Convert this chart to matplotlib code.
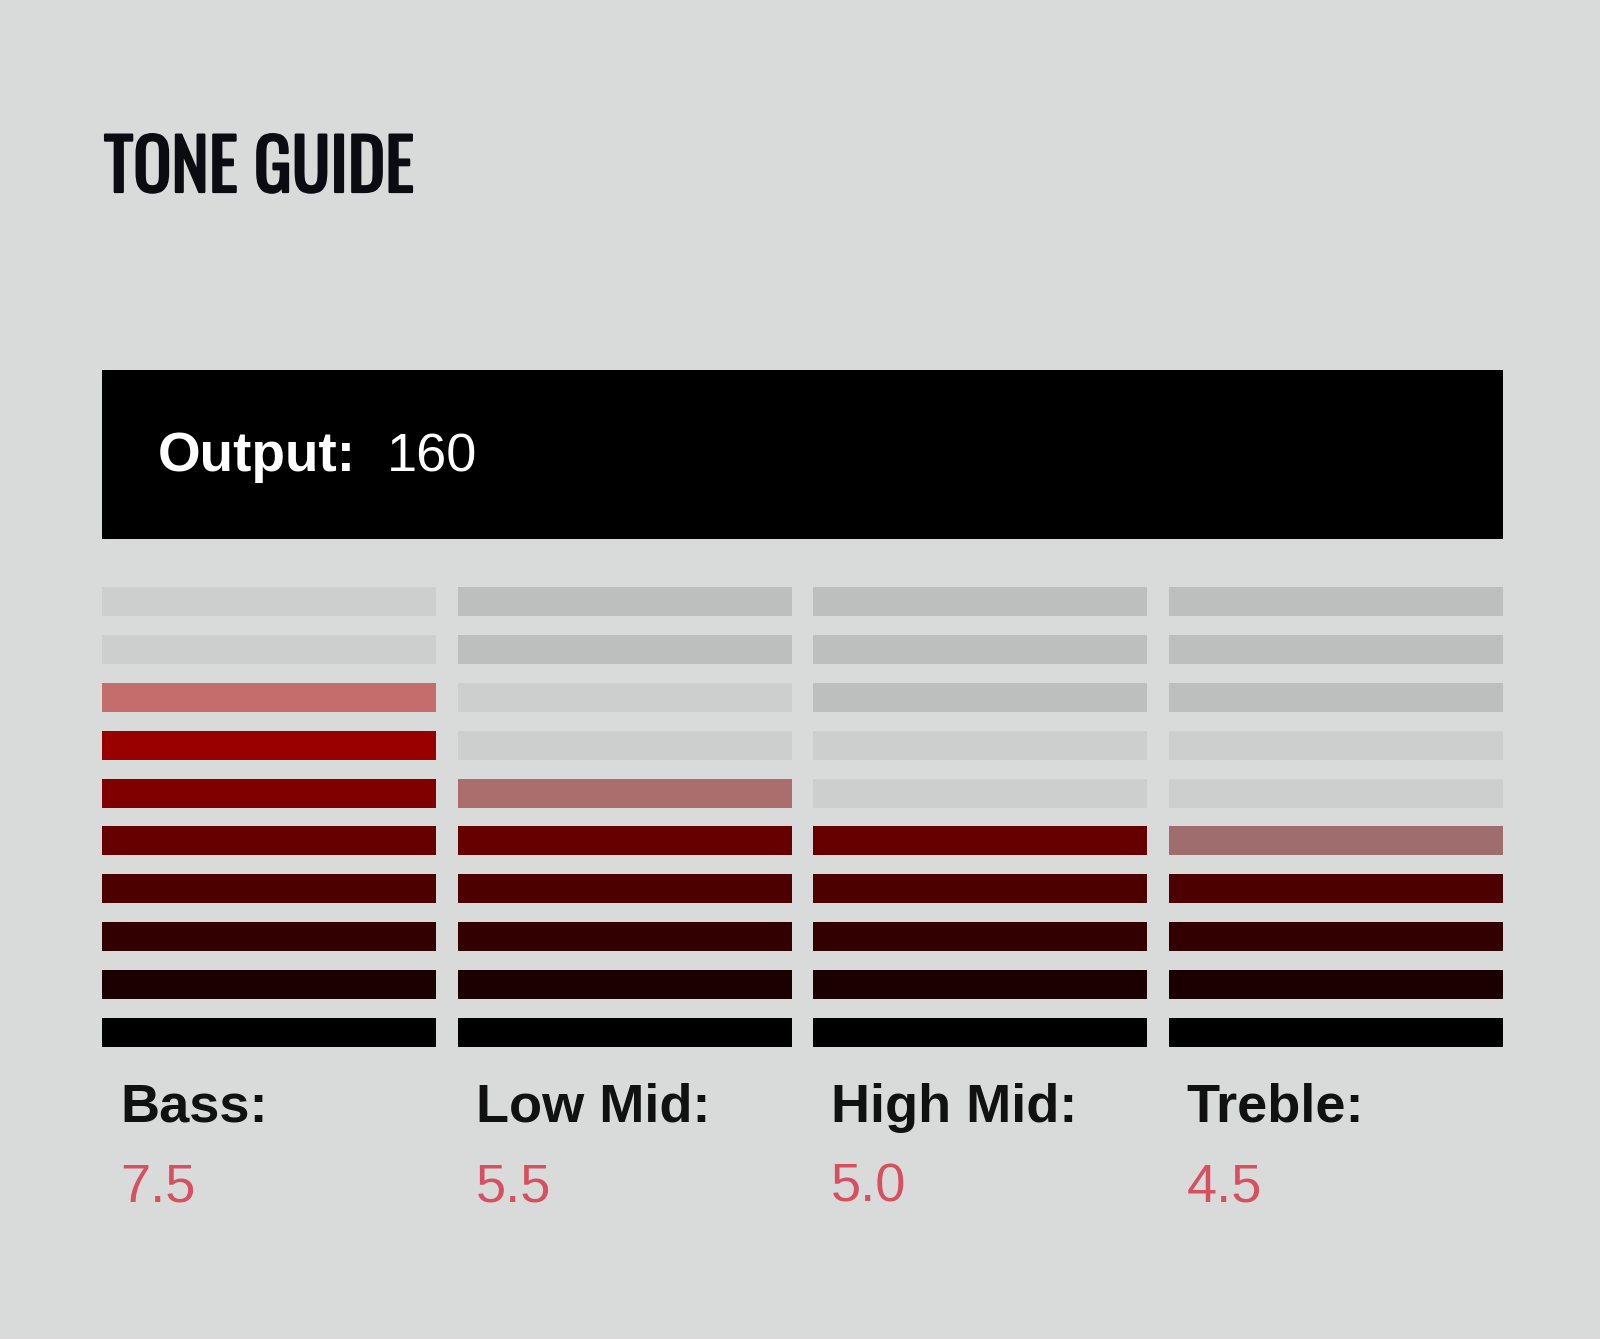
import matplotlib
matplotlib.use("Agg")
import matplotlib.pyplot as plt
from matplotlib import font_manager
import matplotlib.patheffects as pe

# ---- data ----
title = "TONE GUIDE"
output_label = "Output:"
output_value = 160
bands = ["Bass:", "Low Mid:", "High Mid:", "Treble:"]
band_values = [7.5, 5.5, 5.0, 4.5]
n_levels = 10
level_colors = ["#000000", "#1a0000", "#330000", "#4d0000", "#660000",
                "#800000", "#990000", "#b30000", "#cc0000", "#e60000"]

# ---- style ----
BG = "#d9dbdb"
NEAR_EMPTY = "#cdcfcf"
FAR_EMPTY = "#bdbebe"
VALUE_COLOR = "#d6505f"
W, H = 1600, 1339
DPI = 100

names = {f.name for f in font_manager.fontManager.ttflist}
title_family = [f for f in ["Oswald", "Liberation Sans Narrow", "DejaVu Sans"] if f in names]
sans = ["Liberation Sans", "DejaVu Sans"]

fig = plt.figure(figsize=(W / DPI, H / DPI), dpi=DPI, facecolor=BG)

def fx(px):
    return px / W

def fy(py):
    return 1 - py / H

# title
TITLE_COLOR = "#0b0b12"
fig.text(fx(104), fy(192), title, family=title_family, fontweight="bold",
         fontsize=51, color=TITLE_COLOR, va="baseline", ha="left",
         path_effects=[pe.withStroke(linewidth=1.6, foreground=TITLE_COLOR)])

# output panel
ax_out = fig.add_axes([fx(102), fy(539), fx(1503 - 102), (539 - 370) / H])
ax_out.set_facecolor("#000000")
ax_out.set_xticks([]); ax_out.set_yticks([])
for s in ax_out.spines.values():
    s.set_visible(False)
fig.text(fx(158), fy(471), output_label, family=sans, fontweight="bold",
         fontsize=39.5, color="white", va="baseline", ha="left")
fig.text(fx(387), fy(471), str(output_value), family=sans,
         fontsize=39, color="white", va="baseline", ha="left")

# bar meters
col_w, gap = 334.0, 21.6
top_px, bot_px = 587, 1047
spacing = (bot_px - top_px - 29) / (n_levels - 1)
bar_h = 29 / spacing
ax = fig.add_axes([fx(102), fy(bot_px), fx(4 * col_w + 3 * gap), (bot_px - top_px) / H])
ax.set_facecolor(BG)
ax.set_xlim(0, 4 * col_w + 3 * gap)
ax.set_ylim(1 - bar_h / 2, n_levels + bar_h / 2)
ax.axis("off")

levels = list(range(1, n_levels + 1))
for i, v in enumerate(band_values):
    left = i * (col_w + gap)
    full = int(v)
    top_filled = full + (1 if v > full else 0)
    for lv in levels:
        if lv <= full:
            c, a = level_colors[lv - 1], 1.0
        elif lv - 1 < v:
            c, a = level_colors[lv - 1], 0.5
        else:
            c, a = (NEAR_EMPTY if lv - top_filled <= 2 else FAR_EMPTY), 1.0
        ax.barh(lv, col_w, left=left, height=bar_h, color=c, alpha=a, linewidth=0)

    # labels
    fig.text(fx(102 + left + 18), fy(1122), bands[i], family=sans, fontweight="bold",
             fontsize=39, color="#111111", va="baseline", ha="left")
    fig.text(fx(102 + left + 18), fy(1202), f"{v:.1f}", family=sans,
             fontsize=39, color=VALUE_COLOR, va="baseline", ha="left")

fig.savefig("out.png", dpi=DPI, facecolor=BG)
